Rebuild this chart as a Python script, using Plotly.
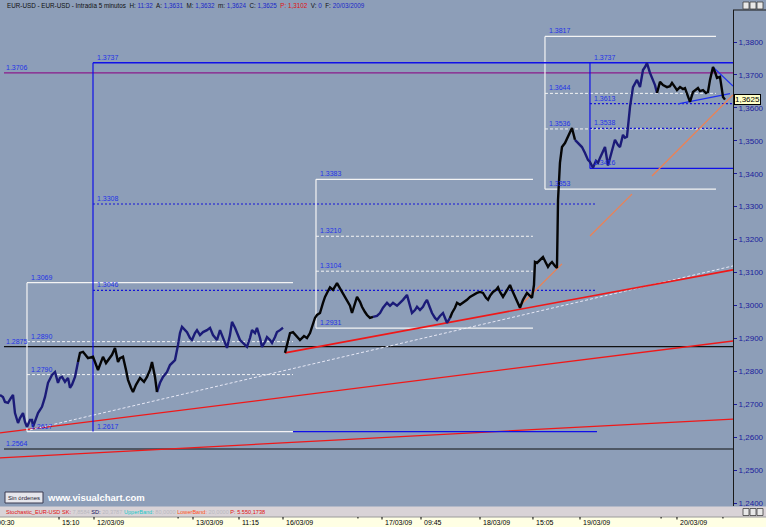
import plotly.graph_objects as go

# ---------------- DATA ----------------
# chart time in hours (trading time, 0 = 11/03/09 00:00), EUR-USD price
hours_a = [0.74, 1.48, 1.98, 2.72, 3.46, 3.96, 4.45, 5.20, 5.69, 6.43, 6.93, 7.42, 8.16, 8.66, 8.91, 9.65,
           10.14, 11.13, 11.88, 12.62, 13.61, 14.35, 15.09, 15.59, 16.08, 16.82, 17.57, 18.06, 18.56, 19.30,
           20.04, 20.53, 21.28, 22.02, 22.51, 23.75, 24.49, 24.99, 25.73, 26.22, 26.97, 27.46, 28.45, 29.19,
           29.94, 30.43, 31.17, 31.92, 32.41, 33.15, 33.65, 34.39, 35.38, 36.37, 37.11, 37.85, 38.35, 39.09,
           39.58, 40.33, 41.07, 42.06, 42.80, 43.54, 44.04, 44.78, 45.27, 45.77, 46.51, 47.01, 47.75, 48.24,
           48.98, 49.48, 50.22, 50.97, 51.95, 52.70, 53.44, 54.43, 55.17, 55.91, 56.90, 57.64, 58.14, 58.88,
           59.38, 60.12, 60.86, 61.85, 62.59, 63.09, 63.83, 64.32, 65.07, 65.56, 66.30, 66.80, 67.54, 68.04,
           68.78, 69.27, 70.01, 70.76]
prices_a = [1.2728, 1.2722, 1.2707, 1.2704, 1.2719, 1.2728, 1.2673, 1.2643, 1.2658, 1.2673, 1.2646, 1.2631,
            1.2652, 1.2652, 1.2631, 1.2658, 1.2673, 1.2692, 1.2722, 1.2765, 1.2789, 1.2798, 1.2765, 1.2780,
            1.2783, 1.2768, 1.2780, 1.2750, 1.2759, 1.2783, 1.2828, 1.2856, 1.2859, 1.2847, 1.2840, 1.2844,
            1.2819, 1.2804, 1.2828, 1.2844, 1.2825, 1.2834, 1.2850, 1.2871, 1.2828, 1.2840, 1.2844, 1.2804,
            1.2774, 1.2750, 1.2737, 1.2759, 1.2780, 1.2768, 1.2783, 1.2804, 1.2828, 1.2783, 1.2737, 1.2765,
            1.2783, 1.2798, 1.2819, 1.2828, 1.2834, 1.2880, 1.2916, 1.2935, 1.2925, 1.2919, 1.2901, 1.2895,
            1.2916, 1.2925, 1.2910, 1.2919, 1.2925, 1.2932, 1.2910, 1.2895, 1.2925, 1.2901, 1.2871, 1.2910,
            1.2950, 1.2932, 1.2919, 1.2895, 1.2886, 1.2874, 1.2901, 1.2925, 1.2916, 1.2932, 1.2901, 1.2874,
            1.2889, 1.2904, 1.2895, 1.2886, 1.2904, 1.2919, 1.2925, 1.2932]
hours_b = [71.25, 72.00, 72.49, 73.23, 74.22, 74.96, 75.95, 76.69, 77.44, 77.93, 78.67, 79.17, 79.91, 80.65,
           81.15, 81.89, 82.38, 83.13, 84.12, 84.86, 85.35, 86.10, 86.59, 87.33, 87.83, 88.57, 89.07, 89.81,
           90.30, 91.04, 91.54, 92.28, 93.02, 94.01, 94.76, 95.50, 96.49, 97.23, 97.97, 98.96, 99.70, 100.45,
           101.43, 102.18, 102.67, 103.41, 103.91, 104.65, 105.39, 105.89, 106.38, 107.12, 107.62, 108.36,
           108.86, 109.60, 110.34, 110.84, 111.33, 112.07, 112.57, 113.31, 113.81, 114.55, 115.29, 116.28,
           117.02, 117.77, 118.75, 119.50, 120.24, 120.98, 121.48, 121.97, 122.71, 123.45, 123.95, 124.44,
           125.19, 125.93, 126.92, 127.41, 128.15, 128.90, 129.39, 130.13, 131.12, 131.86, 132.36, 132.85,
           133.10, 133.59, 134.34, 135.08, 135.82, 136.32, 136.81, 137.31, 138.05, 138.54, 138.70, 138.80,
           139.28, 139.78, 140.52, 141.26, 141.76, 142.25, 142.99, 143.73, 144.72, 145.47, 146.21, 146.70,
           147.45, 148.19, 148.69, 149.18, 149.68, 150.42, 151.16, 151.66, 152.15, 152.89, 153.64, 154.13,
           154.87, 155.37, 155.86, 156.61, 157.35, 157.84, 158.34, 159.08, 159.82, 160.32, 160.81, 161.55,
           162.30, 162.79, 163.29, 164.03, 164.77, 165.76, 166.50, 167.00, 167.74, 168.23, 168.98, 169.72,
           170.21, 170.96, 171.45, 172.19, 172.69, 173.43, 173.92, 174.67, 175.41, 175.90, 176.40, 177.14,
           177.64, 178.13, 178.87, 179.37, 179.62, 180.11]
prices_b = [1.2856, 1.2889, 1.2916, 1.2919, 1.2904, 1.2895, 1.2907, 1.2901, 1.2916, 1.2935, 1.2962, 1.2971,
            1.2977, 1.3008, 1.3026, 1.3044, 1.3055, 1.3047, 1.3068, 1.3052, 1.3041, 1.3026, 1.3017, 1.2999,
            1.2977, 1.3008, 1.3026, 1.3011, 1.2996, 1.2980, 1.2971, 1.2962, 1.2965, 1.2968, 1.2977, 1.2993,
            1.3008, 1.2999, 1.3008, 1.2999, 1.3008, 1.3017, 1.3032, 1.3002, 1.2977, 1.2986, 1.2996, 1.2986,
            1.2996, 1.3008, 1.3017, 1.2993, 1.2977, 1.2962, 1.2956, 1.2968, 1.2977, 1.2962, 1.2947, 1.2962,
            1.2977, 1.2993, 1.3008, 1.3002, 1.3008, 1.3017, 1.3026, 1.3032, 1.3038, 1.3041, 1.3038, 1.3023,
            1.3017, 1.3029, 1.3041, 1.3047, 1.3055, 1.3041, 1.3026, 1.3041, 1.3062, 1.3047, 1.3026, 1.3008,
            1.2993, 1.3017, 1.3038, 1.3029, 1.3023, 1.3062, 1.3132, 1.3129, 1.3138, 1.3147, 1.3129, 1.3117,
            1.3126, 1.3132, 1.3120, 1.3114, 1.3238, 1.3320, 1.3433, 1.3481, 1.3493, 1.3512, 1.3527, 1.3539,
            1.3503, 1.3493, 1.3481, 1.3463, 1.3442, 1.3436, 1.3418, 1.3439, 1.3433, 1.3448, 1.3463, 1.3481,
            1.3425, 1.3448, 1.3466, 1.3503, 1.3487, 1.3481, 1.3518, 1.3509, 1.3512, 1.3603, 1.3663, 1.3673,
            1.3685, 1.3663, 1.3715, 1.3724, 1.3736, 1.3706, 1.3685, 1.3669, 1.3645, 1.3679, 1.3669, 1.3663,
            1.3666, 1.3676, 1.3663, 1.3654, 1.3663, 1.3657, 1.3660, 1.3636, 1.3618, 1.3648, 1.3654, 1.3660,
            1.3651, 1.3654, 1.3645, 1.3648, 1.3685, 1.3724, 1.3709, 1.3691, 1.3694, 1.3660, 1.3633, 1.3625]

# colour runs of the price line (start hour, end hour)
navy_runs = [(0.74, 20.04), (39.58, 70.76), (93.02, 112.07), (142.99, 163.29)]
black_runs = [(20.04, 39.58), (71.25, 93.02), (112.07, 142.99), (163.29, 180.11)]

# x axis labels
tick_hours = [-0.74, 15.34, 24.0, 48.49, 59.87, 70.76, 95.25, 104.9, 119.5, 132.6, 144.24, 168.23]
tick_labels = ["00:30", "15:10", "12/03/09", "13/03/09", "11:15", "16/03/09", "17/03/09", "09:45",
               "18/03/09", "15:05", "19/03/09", "20/03/09"]
minor_tick_hours = [44.8, 89.3, 164.3, 179.6]

# horizontal levels: price, start hour
full_levels = [1.3706, 1.2875, 1.2564]          # magenta, black, black
full_level_start = 1.73
blue_top_level = 1.3737
blue_top_start = 23.75
blue_top_bottom = 1.2617
dotted_levels = [1.3308, 1.3046]
dotted_end = 148.44
blue_ext_level = 1.2617
blue_ext_span = (73.23, 148.44)

# Fibonacci boxes (white)
fib_start = [7.42, 78.92, 135.57]
fib_end = [73.23, 132.60, 177.88]
fib_top = [1.3069, 1.3383, 1.3817]
fib_bottom = [1.2617, 1.2931, 1.3353]
fib_mid = [[1.2890, 1.2790], [1.3210, 1.3104], [1.3644, 1.3536]]

# Fibonacci box (blue)
bfib_start = 146.70
bfib_top = 1.3737
bfib_bottom = 1.3416
bfib_mid = [1.3613, 1.3538]

# trend lines (h0, p0, h1, p1)
red_lines = [(0.74, 1.2537, 182.09, 1.2655), (0.74, 1.2613, 182.09, 1.2892)]
red_thick = (71.25, 1.2856, 182.09, 1.3108)
light_dotted = (8.16, 1.2622, 182.09, 1.3120)
orange_segments = [(129.39, 1.2999, 139.78, 1.3126), (146.70, 1.3211, 157.10, 1.3338),
                   (162.05, 1.3393, 182.09, 1.3639)]
blue_triangle = [(168.50, 1.3612, 181.35, 1.3643), (177.14, 1.3724, 182.09, 1.3666)]

last_price = "1,3625"
header_items = [("H:", "11:32"), ("A:", "1,3631"), ("M:", "1,3632"), ("m:", "1,3624"), ("C:", "1,3625"),
                ("P:", "1,3102"), ("V:", "0"), ("F:", "20/03/2009")]
stoch_items = [("SK:", "7,8584"), ("SD:", "20,3787"), ("UpperBand:", "80,0000"), ("LowerBand:", "20,0000")]
stoch_p = "P: 5.550,1738"

# ---------------- FIGURE ----------------
BG = "#8D9EB8"
XMIN, XMAX = 0.742, 182.09
YMIN, YMAX = 1.23909, 1.38972
FONT = "Liberation Sans"
LBL = "#2433E6"

fig = go.Figure()


def seg(x0, y0, x1, y1, color, width=1.0, dash="solid"):
    fig.add_trace(go.Scatter(x=[x0, x1], y=[y0, y1], mode="lines",
                             line=dict(color=color, width=width, dash=dash),
                             hoverinfo="skip", showlegend=False))


def label(x, y, text, color=LBL, xshift=2):
    fig.add_annotation(x=x, y=y, xref="x", yref="y", text=text, showarrow=False,
                       xanchor="left", yanchor="bottom", xshift=xshift, yshift=0,
                       font=dict(family=FONT, size=7, color=color))


# full width levels
seg(full_level_start, full_levels[0], XMAX, full_levels[0], "#8B1A8B", 1.2)
label(full_level_start, full_levels[0], f"{full_levels[0]:.4f}", xshift=0)
for lv in full_levels[1:]:
    seg(full_level_start, lv, XMAX, lv, "#101010", 1.2)
    label(full_level_start, lv, f"{lv:.4f}", xshift=0)

# trend lines
for (a, b, c, d) in red_lines:
    seg(a, b, c, d, "#F01818", 1.3)
seg(*light_dotted, "#E6E8F6", 1, "3px,2px")

# white fibonacci boxes
for s, e, t, bt, mids in zip(fib_start, fib_end, fib_top, fib_bottom, fib_mid):
    seg(s, t, e, t, "#F4F4F4", 1.2)
    seg(s, bt, e, bt, "#F4F4F4", 1.2)
    seg(s, t, s, bt, "#F4F4F4", 1.2)
    for m in mids:
        seg(s, m, e, m, "#F4F4F4", 1, "3px,2px")
        label(s, m, f"{m:.4f}")
    label(s, t, f"{t:.4f}")
    label(s, bt, f"{bt:.4f}")

# blue structures
seg(blue_top_start, blue_top_level, XMAX, blue_top_level, "#1010E8", 1.3)
seg(blue_top_start, blue_top_level, blue_top_start, blue_top_bottom, "#1010E8", 1.2)
label(blue_top_start, blue_top_level, f"{blue_top_level:.4f}")
label(blue_top_start, blue_top_bottom, f"{blue_top_bottom:.4f}")
seg(blue_ext_span[0], blue_ext_level, blue_ext_span[1], blue_ext_level, "#1010E8", 1.2)
for lv in dotted_levels:
    seg(blue_top_start, lv, dotted_end, lv, "#1414D8", 1.2, "2px,2px")
    label(blue_top_start, lv, f"{lv:.4f}")

seg(bfib_start, bfib_top, bfib_start, bfib_bottom, "#1010E8", 1.2)
seg(bfib_start, bfib_bottom, XMAX, bfib_bottom, "#1010E8", 1.2)
label(bfib_start, bfib_top, f"{bfib_top:.4f}")
label(bfib_start, bfib_bottom, f"{bfib_bottom:.4f}")
for m in bfib_mid:
    seg(bfib_start, m, XMAX, m, "#1414D8", 1.2, "2px,2px")
    label(bfib_start, m, f"{m:.4f}")

seg(*red_thick, "#F01818", 1.6)
for o in orange_segments:
    seg(*o, "#F08050", 1.2)
for bl in blue_triangle:
    seg(*bl, "#2030F0", 1.2)

# price line
hours = hours_a + hours_b
prices = prices_a + prices_b


def run_xy(a, b):
    xs, ys = [], []
    for h, p in zip(hours, prices):
        if a <= h <= b:
            xs.append(h)
            ys.append(p)
    return xs, ys


for runs, col in ((navy_runs, "#1B1B78"), (black_runs, "#050505")):
    for a, b in runs:
        xs, ys = run_xy(a, b)
        fig.add_trace(go.Scatter(x=xs, y=ys, mode="lines", line=dict(color=col, width=2.4),
                                 hoverinfo="skip", showlegend=False))

# ---------------- LAYOUT ----------------
PLOT_H = 496.0
PLOT_W = 733.0


def py(pix):  # paper y from pixel row
    return (506 - pix) / PLOT_H


def px(pix):  # paper x from pixel column
    return pix / PLOT_W


fig.update_layout(
    width=766, height=527, margin=dict(l=0, r=33, t=10, b=21),
    paper_bgcolor=BG, plot_bgcolor=BG, showlegend=False, separators=",.",
    xaxis=dict(range=[XMIN, XMAX], visible=False, fixedrange=True),
    yaxis=dict(range=[YMIN, YMAX], side="right", tick0=1.24, dtick=0.01, tickformat=".4f",
               ticks="outside", ticklen=3, tickcolor="#1c1c9c", fixedrange=True,
               tickfont=dict(family=FONT, size=8, color="#1c1c9c"),
               showgrid=False, zeroline=False, showline=True, linecolor="#1a1a1a", linewidth=1),
)

shapes = []
# bottom strips
shapes.append(dict(type="rect", xref="paper", yref="paper", x0=-0.01, x1=px(770), y0=py(506.5), y1=py(517),
                   fillcolor="#D9D3D7", line=dict(width=0), layer="above"))
shapes.append(dict(type="rect", xref="paper", yref="paper", x0=-0.01, x1=px(770), y0=py(517), y1=py(530),
                   fillcolor="#FFFFE4", line=dict(width=0), layer="above"))
shapes.append(dict(type="line", xref="paper", yref="paper", x0=-0.01, x1=px(770), y0=py(517), y1=py(517),
                   line=dict(color="#9A9A9A", width=1), layer="above"))
# axis box top border
shapes.append(dict(type="line", xref="paper", yref="paper", x0=1, x1=px(770), y0=1, y1=1,
                   line=dict(color="#1a1a1a", width=1), layer="above"))
# window buttons (top and bottom right)
for top in (2, 508.5):
    for i in range(3):
        x0 = 743 + i * 7
        shapes.append(dict(type="rect", xref="paper", yref="paper", x0=px(x0), x1=px(x0 + 6),
                           y0=py(top + 7), y1=py(top), fillcolor="#E8E8E8",
                           line=dict(color="#404040", width=0.8), layer="above"))
# "Sin órdenes" button
shapes.append(dict(type="rect", xref="paper", yref="paper", x0=px(5), x1=px(43), y0=py(503), y1=py(492),
                   fillcolor="#E6E6EC", line=dict(color="#3a3a50", width=1), layer="above"))
fig.update_layout(shapes=shapes)

ann = []
# header
hdr = "EUR-USD - EUR-USD - Intradía 5 minutos"
for k, v in header_items:
    col = "#E01010" if k == "P:" else "#1a28c8"
    kcol = "#E01010" if k == "P:" else "#101010"
    hdr += f"  <span style='color:{kcol}'>{k}</span> <span style='color:{col}'>{v}</span>"
ann.append(dict(xref="paper", yref="paper", x=px(5), y=py(0), xanchor="left", yanchor="top",
                text=hdr, showarrow=False, font=dict(family=FONT, size=6.3, color="#101010")))
# stochastic line
st = "<span style='color:#E01010'>Stochastic_EUR-USD</span>"
kcols = ["#E01010", "#101060", "#20C8C8", "#FF5020"]
for (k, v), kc in zip(stoch_items, kcols):
    st += f" <span style='color:{kc}'>{k}</span> <span style='color:#B8B8C0'>{v}</span>"
st += f" <span style='color:#E01010'>{stoch_p}</span>"
ann.append(dict(xref="paper", yref="paper", x=px(4), y=py(511.8), xanchor="left", yanchor="middle",
                text=st, showarrow=False, font=dict(family=FONT, size=5.6, color="#E01010")))
# x labels and tick marks
for h, t in zip(tick_hours, tick_labels):
    xs = 1
    xx = h
    if h < XMIN:
        xs += (h - XMIN) * PLOT_W / (XMAX - XMIN)
        xx = XMIN
    ann.append(dict(xref="x", yref="paper", x=xx, y=py(522.5), xanchor="left", yanchor="middle",
                    xshift=xs, text=t, showarrow=False, font=dict(family=FONT, size=7, color="#000000")))
    if h >= XMIN:
        ann.append(dict(xref="x", yref="paper", x=h, y=py(517), text="", showarrow=True, ax=0, ay=4,
                        arrowhead=0, arrowwidth=1, arrowcolor="#000000", standoff=0, startstandoff=0))
for h in minor_tick_hours:
    ann.append(dict(xref="x", yref="paper", x=h, y=py(517), text="", showarrow=True, ax=0, ay=3,
                    arrowhead=0, arrowwidth=1, arrowcolor="#000000", standoff=0, startstandoff=0))
# last price box
ann.append(dict(xref="paper", yref="y", x=1, y=float(last_price.replace(",", ".")), xanchor="left", xshift=1,
                text=last_price, showarrow=False, bgcolor="#FFFFC8", bordercolor="#000000", borderwidth=1,
                borderpad=0, font=dict(family=FONT, size=8, color="#000000")))
# bottom-left texts
ann.append(dict(xref="paper", yref="paper", x=px(24), y=py(497.5), xanchor="center", yanchor="middle",
                text="Sin órdenes", showarrow=False, font=dict(family=FONT, size=6, color="#202030")))
ann.append(dict(xref="paper", yref="paper", x=px(45), y=py(497), xanchor="left", yanchor="middle",
                text="<b>www.visualchart.com</b>", showarrow=False, font=dict(family=FONT, size=9.5, color="#FFFFFF")))

for a in ann:
    fig.add_annotation(**a)

fig.write_html("out.html", config={"displayModeBar": False, "staticPlot": True},
               post_script="document.body.style.margin='0';document.body.style.overflow='hidden';")
